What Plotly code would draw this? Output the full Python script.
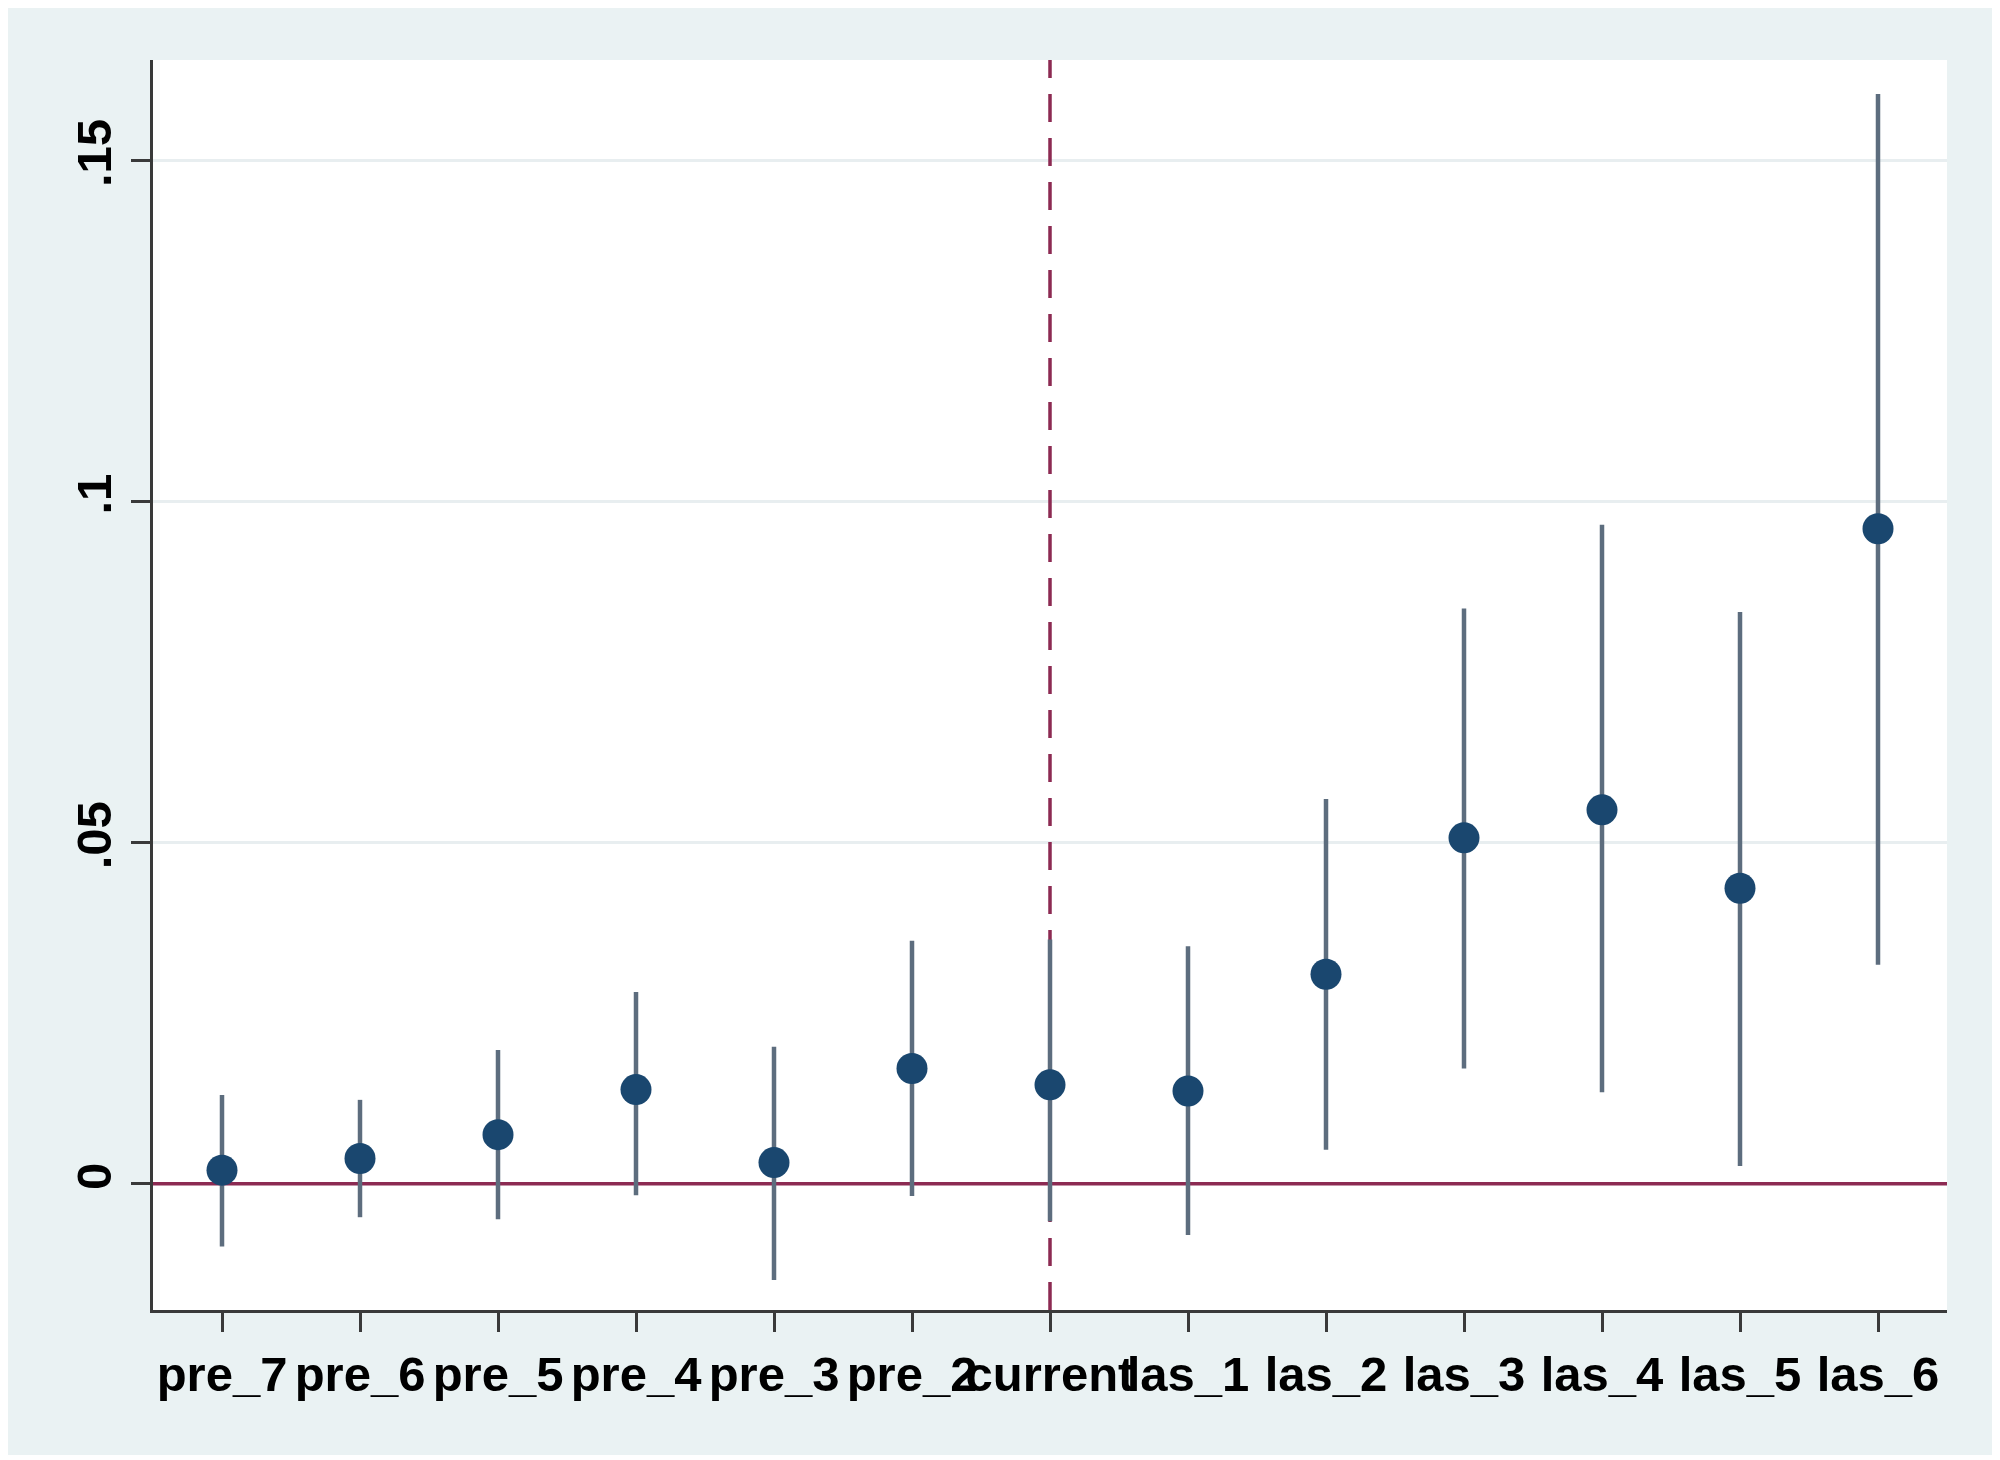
import plotly.graph_objects as go

categories = ["pre_7", "pre_6", "pre_5", "pre_4", "pre_3", "pre_2", "current",
              "las_1", "las_2", "las_3", "las_4", "las_5", "las_6"]
coef = [0.0020, 0.0037, 0.0072, 0.0138, 0.0031, 0.0169, 0.0145,
        0.0136, 0.0307, 0.0507, 0.0548, 0.0433, 0.0960]
ci_upper = [0.0130, 0.0123, 0.0196, 0.0281, 0.0201, 0.0356, 0.0358,
            0.0348, 0.0564, 0.0843, 0.0966, 0.0838, 0.1597]
ci_lower = [-0.0092, -0.0049, -0.0052, -0.0017, -0.0141, -0.0018, -0.0055,
            -0.0075, 0.0050, 0.0169, 0.0134, 0.0026, 0.0321]
y_tickvals = [0, 0.05, 0.1, 0.15]
y_ticktext = ["0", ".05", ".1", ".15"]
event_label = "current"
y_range = [-0.0185, 0.1647]

x = list(range(len(categories)))
x_range = [-0.5, len(categories) - 0.5]
err_plus = [u - c for u, c in zip(ci_upper, coef)]
err_minus = [c - l for c, l in zip(coef, ci_lower)]

AXIS = "#3a3a3a"
MAROON = "#8c2a52"
OUTER = "#eaf2f3"
font = dict(family="Liberation Sans, Arial, sans-serif", size=49, color="#000000", weight="bold")

ev = categories.index(event_label)

fig = go.Figure()
# reference line at zero
fig.add_trace(go.Scatter(x=x_range, y=[0, 0], mode="lines",
                         line=dict(color=MAROON, width=3.5), showlegend=False,
                         hoverinfo="skip", cliponaxis=True))
# event line at "current"
fig.add_trace(go.Scatter(x=[ev, ev], y=y_range, mode="lines",
                         line=dict(color=MAROON, width=3.5, dash="28px,16px"),
                         showlegend=False, hoverinfo="skip"))
fig.add_trace(go.Scatter(
    x=x, y=coef, mode="markers",
    marker=dict(size=31, color="#1a476f", line=dict(width=0)),
    error_y=dict(type="data", symmetric=False, array=err_plus, arrayminus=err_minus,
                 color="#5d6d7e", thickness=4.5, width=0),
    showlegend=False,
))

# page body has an 8px offset; figure coordinates below are relative to the figure
W, H = 2000, 1460
OFF = 8
ml, mt = 153 - OFF, 60 - OFF
pw, ph = 1794, 1250
mr, mb = W - ml - pw, H - mt - ph

def px_x(p):
    return (p - OFF - ml) / pw

def px_y(p):
    return (mt + ph - (p - OFF)) / ph

shapes = [
    dict(type="rect", xref="paper", yref="paper", x0=px_x(OFF), x1=px_x(1996),
         y0=px_y(1455), y1=px_y(OFF), fillcolor=OUTER, line=dict(width=0), layer="below"),
    dict(type="rect", xref="paper", yref="paper", x0=0, x1=1, y0=0, y1=1,
         fillcolor="#ffffff", line=dict(width=0), layer="below"),
]

fig.update_layout(
    width=W, height=H, autosize=False,
    margin=dict(l=ml, r=mr, t=mt, b=mb, pad=0),
    paper_bgcolor="#ffffff", plot_bgcolor="rgba(0,0,0,0)",
    font=font,
    shapes=shapes,
    xaxis=dict(range=x_range, tickvals=x, ticktext=categories,
               tickangle=0, ticks="outside", ticklen=19, tickwidth=3, tickcolor=AXIS,
               showline=True, linecolor=AXIS, linewidth=3, showgrid=False, zeroline=False,
               tickfont=font),
    yaxis=dict(range=y_range, tickvals=y_tickvals, ticktext=y_ticktext,
               tickangle=-90, ticks="outside", ticklen=19, tickwidth=3, tickcolor=AXIS,
               showline=True, linecolor=AXIS, linewidth=3, showgrid=True,
               gridcolor="#e8eef0", gridwidth=3, zeroline=False, tickfont=font),
)

fig.write_html("out.html")
